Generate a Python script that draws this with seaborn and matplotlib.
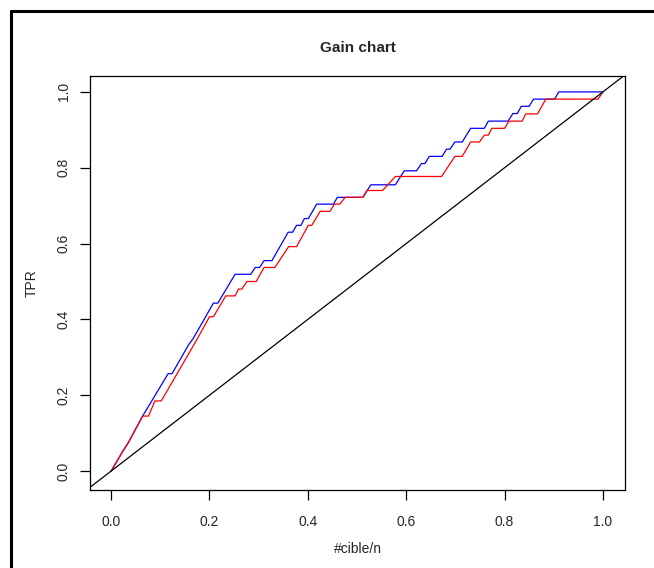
import seaborn as sns
import matplotlib.pyplot as plt
import matplotlib.lines as mlines
import pandas as pd

# gain curves (x = #cible/n, y = TPR)
blue_x = [0.000, 0.025, 0.035, 0.064, 0.116, 0.124, 0.157, 0.167, 0.208, 0.217,
          0.252, 0.284, 0.293, 0.302, 0.311, 0.327, 0.360, 0.369, 0.377, 0.386,
          0.393, 0.401, 0.418, 0.452, 0.460, 0.512, 0.528, 0.578, 0.596, 0.621,
          0.631, 0.638, 0.647, 0.673, 0.682, 0.689, 0.699, 0.714, 0.731, 0.759,
          0.767, 0.807, 0.817, 0.826, 0.834, 0.850, 0.859, 0.902, 0.910, 1.000]
blue_y = [0.000, 0.055, 0.075, 0.145, 0.257, 0.257, 0.332, 0.350, 0.443, 0.443,
          0.519, 0.519, 0.537, 0.537, 0.555, 0.555, 0.630, 0.630, 0.648, 0.648,
          0.666, 0.666, 0.704, 0.704, 0.722, 0.722, 0.755, 0.755, 0.792, 0.792,
          0.811, 0.811, 0.830, 0.830, 0.849, 0.849, 0.868, 0.868, 0.904, 0.904,
          0.923, 0.923, 0.943, 0.943, 0.962, 0.962, 0.981, 0.981, 1.000, 1.000]

red_x = [0.000, 0.025, 0.035, 0.064, 0.076, 0.089, 0.102, 0.174, 0.200, 0.208,
         0.233, 0.252, 0.259, 0.266, 0.276, 0.295, 0.311, 0.333, 0.361, 0.377,
         0.401, 0.408, 0.425, 0.445, 0.454, 0.465, 0.476, 0.512, 0.520, 0.552,
         0.578, 0.672, 0.699, 0.714, 0.731, 0.749, 0.759, 0.767, 0.774, 0.800,
         0.809, 0.836, 0.843, 0.867, 0.884, 0.990, 1.000]
red_y = [0.000, 0.055, 0.075, 0.145, 0.145, 0.185, 0.185, 0.346, 0.407, 0.407,
         0.462, 0.462, 0.480, 0.480, 0.500, 0.500, 0.537, 0.537, 0.592, 0.592,
         0.648, 0.648, 0.685, 0.685, 0.704, 0.704, 0.722, 0.722, 0.740, 0.740,
         0.777, 0.777, 0.830, 0.830, 0.868, 0.868, 0.886, 0.886, 0.904, 0.904,
         0.923, 0.923, 0.942, 0.942, 0.981, 0.981, 1.000]

ticks = [0.0, 0.2, 0.4, 0.6, 0.8, 1.0]
tick_labels = ["0.0", "0.2", "0.4", "0.6", "0.8", "1.0"]

sns.set_style("white")
plt.rcParams['font.family'] = ['Liberation Sans', 'DejaVu Sans']

fig = plt.figure(figsize=(6.54, 5.68), dpi=100)
ax = fig.add_axes([0.1376, 0.1373, 0.8181, 0.7289])

df_blue = pd.DataFrame({"x": blue_x, "y": blue_y})
df_red = pd.DataFrame({"x": red_x, "y": red_y})
sns.lineplot(data=df_blue, x="x", y="y", sort=False, estimator=None,
             color="blue", linewidth=0.9, ax=ax)
sns.lineplot(data=df_red, x="x", y="y", sort=False, estimator=None,
             color="red", linewidth=0.9, ax=ax)

ax.set_xlim(-0.043, 1.045)
ax.set_ylim(-0.05, 1.042)
ax.axline((0, 0), (1, 1), color="black", linewidth=0.9)

for s in ax.spines.values():
    s.set_color("black")
    s.set_linewidth(0.9)

ax.set_xticks(ticks)
ax.set_xticklabels(tick_labels)
ax.set_yticks(ticks)
ax.set_yticklabels(tick_labels, rotation=90, va="center")
ax.tick_params(axis="both", direction="out", length=7, width=0.9,
               color="black", labelsize=10, bottom=True, left=True)
ax.tick_params(axis="x", pad=11)
ax.tick_params(axis="y", pad=7)

ax.set_xlabel("#cible/n", fontsize=10, labelpad=9)
ax.set_ylabel("TPR", fontsize=10, labelpad=13)
ax.set_title("Gain chart", fontsize=11, fontweight="bold", pad=17)

# outer frame (left and top edges visible)
fig.add_artist(mlines.Line2D([11 / 654, 11 / 654], [0, 1 - 11 / 568],
                             color="black", linewidth=2.2,
                             transform=fig.transFigure))
fig.add_artist(mlines.Line2D([11 / 654, 1], [1 - 11 / 568, 1 - 11 / 568],
                             color="black", linewidth=2.2,
                             transform=fig.transFigure))

plt.savefig("out.png", dpi=100)
plt.close()
